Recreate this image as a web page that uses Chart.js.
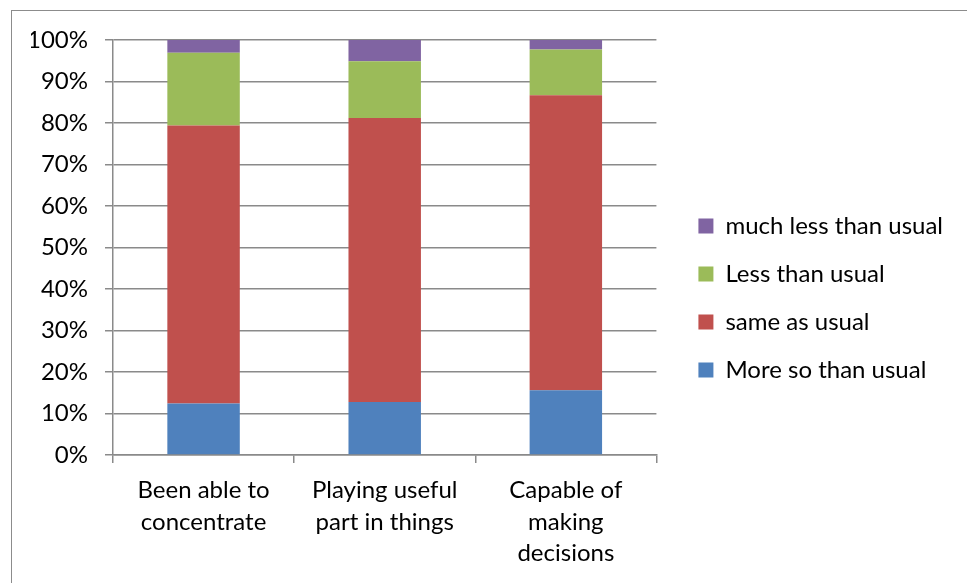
<!DOCTYPE html>
<html>
<head>
<meta charset="utf-8">
<script src="https://cdn.jsdelivr.net/npm/chart.js@4.4.1/dist/chart.umd.min.js"></script>
<style>
  html, body { margin: 0; padding: 0; background: #fff; }
  #wrap { position: relative; width: 967px; height: 583px; overflow: hidden; }
  #frame { position: absolute; left: 11px; top: 10px; width: 1000px; height: 620px; border: 1.5px solid #8c8c8c; box-sizing: border-box; }
  #myChart { position: absolute; left: 0; top: 0; }
</style>
</head>
<body>
<div id="wrap">
  <div id="frame"></div>
  <canvas id="myChart" width="967" height="583"></canvas>
</div>
<script>
const categories = [
  ["Been able to", "concentrate"],
  ["Playing useful", "part in things"],
  ["Capable of", "making", "decisions"],
];
const moreSo = [12.4, 12.8, 15.6];
const sameAs = [67.0, 68.4, 71.1];
const lessThan = [17.5, 13.7, 11.0];
const muchLess = [3.1, 5.1, 2.3];
const yTicks = [0, 10, 20, 30, 40, 50, 60, 70, 80, 90, 100];

const ctx = document.querySelector("#myChart").getContext("2d");
const font = { family: "Lato, 'Open Sans', sans-serif", size: 24 };
const gridColor = "#8a8a8a";

const bar = (label, values, color) => ({
  label,
  data: values,
  backgroundColor: color,
  borderWidth: 0,
  barPercentage: 0.4,
  categoryPercentage: 1,
});

const data = {
  labels: categories,
  datasets: [
    bar("More so than usual", moreSo, "#4f81bd"),
    bar("same as usual", sameAs, "#c0504d"),
    bar("Less than usual", lessThan, "#9bbb59"),
    bar("much less than usual", muchLess, "#8064a2"),
  ],
};

const config = {
  type: "bar",
  data: data,
  options: {
    responsive: false,
    animation: false,
    layout: { padding: { left: 31, top: 26, right: 14, bottom: 13 } },
    plugins: {
      tooltip: { enabled: false },
      // empty title only keeps the plot top below the legend top
      title: {
        display: true,
        fullSize: false,
        text: "",
        padding: 0,
        font: { size: 10, lineHeight: "14px" },
      },
      legend: {
        position: "right",
        reverse: true,
        maxWidth: 400,
        labels: {
          color: "#000",
          font: font,
          boxWidth: 15,
          boxHeight: 15,
          padding: 24,
        },
      },
    },
    scales: {
      x: {
        stacked: true,
        grid: {
          offset: true,
          drawOnChartArea: false,
          drawTicks: true,
          tickLength: 8,
          color: gridColor,
          lineWidth: 1.5,
        },
        border: { color: gridColor, width: 1.5 },
        ticks: { color: "#000", font: { ...font, lineHeight: 1.3 }, padding: 12, maxRotation: 0 },
        afterFit: (scale) => { scale.height = 115; },
      },
      y: {
        stacked: true,
        min: 0,
        max: 100,
        afterBuildTicks: (scale) => { scale.ticks = yTicks.map((v) => ({ value: v })); },
        grid: { color: gridColor, lineWidth: 1.5, tickLength: 8 },
        border: { color: gridColor, width: 1.5 },
        ticks: { color: "#000", font: font, padding: 17, callback: (v) => v + "%" },
        afterFit: (scale) => { scale.width = 82; },
      },
      spacer: {
        position: "right",
        display: true,
        grid: { display: false },
        border: { display: false },
        ticks: { display: false },
        afterFit: (scale) => { scale.width = 18; },
      },
    },
  },
};

const myChart = new Chart(ctx, config);
</script>
</body>
</html>
